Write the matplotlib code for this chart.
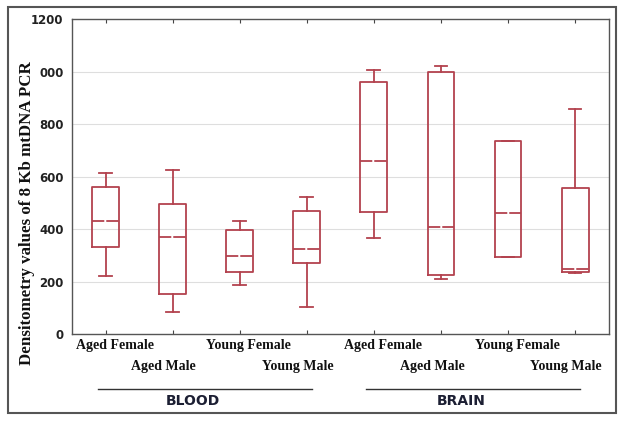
import matplotlib
matplotlib.use('Agg')
import matplotlib.pyplot as plt
from matplotlib.patches import Rectangle

# groups / categories
tissues = ['BLOOD', 'BRAIN']
groups = ['Aged Female', 'Aged Male', 'Young Female', 'Young Male']

# box statistics (blood groups first, then brain)
whisLow = [221, 83, 187, 102, 368, 211, 293, 232]
q1 = [331, 151, 235, 271, 464, 226, 293, 238]
medians = [431, 371, 298, 324, 660, 407, 461, 248]
q3 = [560, 497, 396, 469, 962, 1000, 738, 558]
whisHigh = [614, 625, 430, 523, 1008, 1024, 738, 859]

yTicks = [0, 200, 400, 600, 800, 1000, 1200]
yTickLabels = ['0', '200', '400', '600', '800', '000', '1200']

boxColor = '#b3424e'
serif = ['Liberation Serif', 'DejaVu Serif']

fig = plt.figure(figsize=(6.24, 4.22), dpi=100)
ax = fig.add_axes([0.1154, 0.2085, 0.860, 0.7453])

stats = []
for i in range(len(medians)):
    stats.append({'whislo': whisLow[i], 'q1': q1[i], 'med': medians[i],
                  'q3': q3[i], 'whishi': whisHigh[i], 'fliers': []})
positions = list(range(1, len(stats) + 1))

lineProps = dict(color=boxColor, linewidth=1.3)
ax.bxp(stats, positions=positions, widths=0.4, showfliers=False,
       boxprops=lineProps, whiskerprops=lineProps,
       capprops=dict(color=boxColor, linewidth=1.3),
       medianprops=dict(color=boxColor, linewidth=1.3, linestyle=(0, (6.8, 1.1))),
       capwidths=0.19, manage_ticks=False)

ax.set_xlim(0.5, len(stats) + 0.5)
ax.set_ylim(0, 1200)
ax.set_yticks(yTicks)
ax.set_yticklabels(yTickLabels, fontweight='bold', fontsize=8.5, color='#222222')
ax.set_xticks(positions)
ax.set_xticklabels([])
ax.tick_params(axis='both', direction='in', length=3, color='#444444')
ax.tick_params(axis='y', right=True, pad=6, length=0)
ax.tick_params(axis='x', top=True)
ax.yaxis.grid(True, color='#dedede', linewidth=0.8)
ax.set_axisbelow(True)
for sp in ax.spines.values():
    sp.set_color('#555555')
    sp.set_linewidth(1.0)

# staggered category labels under the axis
allLabels = groups * len(tissues)
for i, lab in enumerate(allLabels):
    if i % 2 == 0:
        off, yOff = 9, -5
    else:
        off, yOff = -9, -26
    ax.annotate(lab, xy=(positions[i], 0), xycoords=('data', 'axes fraction'),
                xytext=(off, yOff), textcoords='offset pixels', ha='center', va='top',
                fontsize=10, fontweight='bold', family=serif, color='#111111')

# tissue lines and labels
for t, name in enumerate(tissues):
    first = positions[t * len(groups)]
    last = positions[(t + 1) * len(groups) - 1]
    ax.plot([first - 0.12, last + 0.08], [-0.176, -0.176], color='#333333', linewidth=1.0,
            transform=ax.get_xaxis_transform(), clip_on=False)
    ax.text((first + last) / 2 - 0.2, -0.213, name, transform=ax.get_xaxis_transform(),
            ha='center', va='center', fontsize=10, fontweight='bold', color='#1c1f33')

fig.text(27 / 624, 1 - 213 / 422, 'Densitometry values of 8 Kb mtDNA PCR', rotation=90,
         ha='center', va='center', fontsize=12.2, fontweight='bold', family=serif, color='#111111')

# outer frame
fig.patches.append(Rectangle((8 / 624, 1 - 413 / 422), 608 / 624, 406 / 422,
                             transform=fig.transFigure, fill=False,
                             edgecolor='#555555', linewidth=1.5))

fig.savefig('out.png', dpi=100)
